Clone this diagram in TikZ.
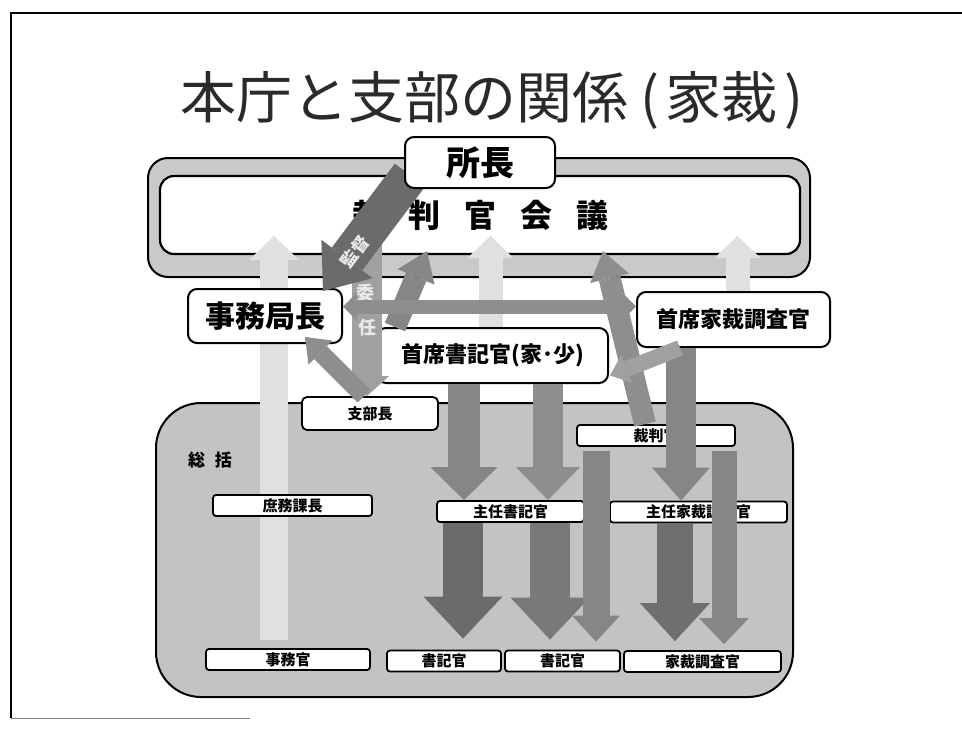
\documentclass[tikz,border=0pt]{standalone}
\usepackage{fontspec}
\newfontfamily\jp{Noto Sans CJK JP}
\usetikzlibrary{arrows.meta,calc}
\definecolor{bandgray}{HTML}{C9C9C9}
\definecolor{panelgray}{HTML}{C3C3C3}
\definecolor{faint}{HTML}{E0E0E0}
\definecolor{darkA}{HTML}{6B6B6B}
\definecolor{midA}{HTML}{868686}
\definecolor{midB}{HTML}{8E8E8E}
\definecolor{lightA}{HTML}{A0A0A0}
\definecolor{titlec}{HTML}{2A2A2A}
\tikzset{
  bigbox/.style={draw=black, line width=2pt, fill=white, rounded corners=9pt, inner sep=0pt},
  smallbox/.style={draw=black, line width=1.8pt, fill=white, rounded corners=3pt, inner sep=0pt,
    minimum height=21pt, font=\jp\bfseries\fontsize{15}{15}\selectfont},
  blk/.style n args={4}{draw=#1, line width=#2, -{Triangle[width=#3,length=#4,line width=0pt]}},
  dblk/.style n args={4}{draw=#1, line width=#2, {Triangle[width=#3,length=#4,line width=0pt]}-{Triangle[width=#3,length=#4,line width=0pt]}},
  wtext/.style={text=white!92!black, font=\jp\bfseries\fontsize{18}{18}\selectfont, inner sep=0pt}
}
\begin{document}
\begin{tikzpicture}[x=1pt,y=-1pt]
\useasboundingbox (0,0) rectangle (962,731);
\fill[white] (0,0) rectangle (962,731);
% slide border
\draw[line width=1.3pt] (962,13) -- (11,13) -- (11,718);
\draw[line width=0.8pt, black!50] (11,718) -- (250,718);
% title
\node[text=titlec, font=\jp\fontsize{56}{56}\selectfont, inner sep=0pt] (title) at (492,100) {本庁と支部の関係\hspace{12pt}(\hspace{7pt}家裁\hspace{7pt})};
% judges' council band
\node[draw=black, line width=2pt, fill=bandgray, rounded corners=20pt, minimum width=662pt, minimum height=119pt] (band) at (479,217.5) {};
\node[draw=black, line width=2.2pt, fill=white, rounded corners=14pt, minimum width=640pt, minimum height=78pt,
  font=\jp\bfseries\fontsize{32}{32}\selectfont] (kaigi) at (480,215) {裁\hspace{24pt}判\hspace{24pt}官\hspace{24pt}会\hspace{24pt}議};
% branch panel
\node[draw=black, line width=2pt, fill=panelgray, rounded corners=45pt, minimum width=637pt, minimum height=294pt] (panel) at (474.5,550) {};
\node[font=\jp\bfseries\fontsize{17}{17}\selectfont, inner sep=0pt] (sokatsu) at (210,460) {総\hspace{10pt}括};
% free ends
\coordinate (fa) at (274,236);
\coordinate (fb) at (490.5,236);
\coordinate (fc) at (737.5,236);
\coordinate (iy) at (367,242);
\coordinate (kt) at (410,175);
\coordinate (fabot) at (274,640);
\coordinate (fbbot) at (490.5,330);
\coordinate (fcbot) at (737.5,294);
% faint arrows up to the council (behind the boxes)
\draw[blk={faint}{28pt}{50pt}{24pt}] (fabot) -- (fa);
\draw[blk={faint}{24pt}{46pt}{22pt}] (fbbot) -- (fb);
\draw[blk={faint}{24pt}{46pt}{22pt}] (fcbot) -- (fc);
% boxes
\node[bigbox, minimum width=154pt, minimum height=54pt, font=\jp\bfseries\fontsize{30}{30}\selectfont] (jimu) at (265,316) {事務局長};
\node[bigbox, minimum width=193pt, minimum height=55pt, font=\jp\bfseries\fontsize{22}{22}\selectfont] (chosa) at (733.5,319.5) {首席家裁調査官};
\node[bigbox, minimum width=231pt, minimum height=55pt, font=\jp\bfseries\fontsize{22}{22}\selectfont] (shoki) at (492.5,355.5) {首席書記官(家･少)};
\node[smallbox, minimum width=136pt, minimum height=33pt, rounded corners=5pt] (shibu) at (370,413.5) {支部長};
\node[smallbox, minimum width=158pt] (saiban) at (656,435.5) {裁判官};
\node[smallbox, minimum width=159pt] (somu) at (292.5,505.5) {庶務課長};
\node[smallbox, minimum width=147pt] (shunin) at (510.5,511.5) {主任書記官};
\node[smallbox, minimum width=177pt] (shuninc) at (698.5,512) {主任家裁調査官};
\node[smallbox, minimum width=164pt] (jimukan) at (288,659.5) {事務官};
\node[smallbox, minimum width=114pt] (shokiA) at (444,661) {書記官};
\node[smallbox, minimum width=115pt] (shokiB) at (562.5,661) {書記官};
\node[smallbox, minimum width=157pt] (chosakan) at (702.5,661.5) {家裁調査官};
% arrows from 首席書記官 to 主任書記官
\draw[blk={midA}{32pt}{67pt}{33pt}] ($(shoki.south)+(-28.5,0)$) -- ($(shunin.north)+(-46.5,0)$);
\draw[blk={midB}{30pt}{64pt}{33pt}] ($(shoki.south)+(55.5,0)$) -- ($(shunin.north)+(37.5,0)$);
% 主任書記官 to 書記官
\draw[blk={darkA}{40pt}{79pt}{42pt}] ($(shunin.south)+(-47.5,0)$) -- ($(shokiA.north)+(19,-11)$);
\draw[blk={midA!90!black}{40pt}{79pt}{42pt}] ($(shunin.south)+(39.5,0)$) -- ($(shokiB.north)+(-12.5,-10)$);
% 裁判官 to 書記官
\draw[blk={midA}{27pt}{48pt}{26pt}] ($(saiban.south)+(-60,4)$) -- ($(shokiB.north)+(33.5,-8)$);
% 首席家裁調査官 to 主任家裁調査官 (over 裁判官 box)
\draw[blk={midA}{30pt}{58pt}{33pt}] ($(chosa.south)+(-52.5,0)$) -- ($(shuninc.north)+(-17.5,0)$);
% 主任家裁調査官 to 家裁調査官
\draw[blk={darkA!80!gray}{36pt}{70pt}{38pt}] ($(shuninc.south)+(-23.5,0)$) -- ($(chosakan.north)+(-27.5,-9)$);
\draw[blk={midA}{25pt}{50pt}{26pt}] ($(saiban.south)+(68,4)$) -- ($(chosakan.north)+(21.5,-6)$);
% 委任
\draw[blk={lightA}{30pt}{44pt}{20pt}] (iy) -- ($(shibu.north)+(-3,0)$);
\node[wtext] (inin1) at (365,293) {委};
\node[wtext] (inin2) at (367,328) {任};
% 支部長 to 事務局長
\draw[blk={midB}{18pt}{34pt}{22pt}] ($(shibu.north)+(-6,0)$) -- ($(jimu.south east)+(-38,-7)$);
% up to council
\draw[blk={midA}{22pt}{40pt}{28pt}] ($(shoki.north)+(-97.5,0)$) -- ($(kaigi.south)+(-53,-4)$);
\draw[blk={midB}{22pt}{40pt}{28pt}] ($(saiban.north)+(-11,0)$) -- ($(kaigi.south)+(123,-4)$);
% 事務局長 <-> 首席家裁調査官
\draw[dblk={midB}{14pt}{28pt}{14pt}] ($(jimu.east)+(0,-9.5)$) -- ($(chosa.west)+(0,-13)$);
% 首席家裁調査官 to 首席書記官
\draw[blk={lightA}{16pt}{30pt}{18pt}] ($(chosa.south)+(-53.5,0)$) -- ($(shoki.east)+(1,20)$);
% 監督
\draw[blk={darkA}{38pt}{64pt}{40pt}] (kt) -- ($(jimu.north east)+(-20,3)$);
\node[wtext, rotate=53, font=\jp\bfseries\fontsize{17}{17}\selectfont] (kantoku) at (355,252) {監督};
% 所長 on top
\node[bigbox, minimum width=150pt, minimum height=51pt, font=\jp\bfseries\fontsize{34}{34}\selectfont] (shocho) at (480,162.5) {所長};
\end{tikzpicture}
\end{document}
